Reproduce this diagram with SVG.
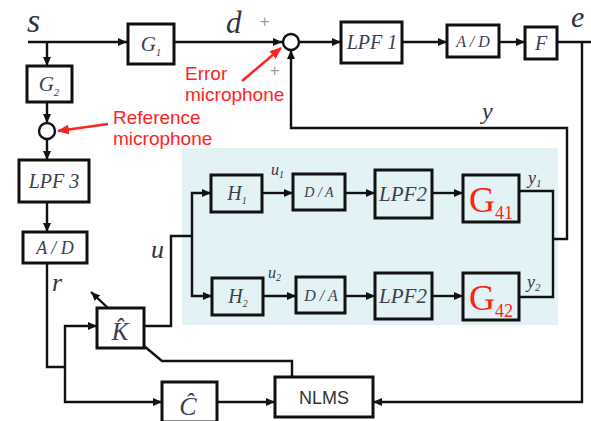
<svg xmlns="http://www.w3.org/2000/svg" width="591" height="421" viewBox="0 0 591 421">
<defs>
<marker id="ah" markerUnits="userSpaceOnUse" markerWidth="9" markerHeight="8" refX="9" refY="4" orient="auto">
<path d="M0,0 L9,4 L0,8 z" fill="#111"/>
</marker>
<marker id="ahr" markerUnits="userSpaceOnUse" markerWidth="12" markerHeight="10" refX="11" refY="5" orient="auto">
<path d="M0,0 L12,5 L0,10 z" fill="#f22"/>
</marker>
<style>
.box{fill:#fff;stroke:#111;stroke-width:3}
.sbox{fill:#e3f2f4;stroke:#111;stroke-width:3}
.ln{fill:none;stroke:#111;stroke-width:2.4}
.arr{marker-end:url(#ah)}
.mic{fill:#fff;stroke:#111;stroke-width:2.4}
.m{font-family:"Liberation Serif",serif;font-style:italic;fill:#33333f}
.bl{font-family:"Liberation Serif",serif;font-style:italic;fill:#3a3e50;text-anchor:middle}
.red{font-family:"Liberation Sans",Arial,sans-serif;fill:#f22;font-size:19px}
.g4{font-family:"Liberation Serif",serif;fill:#f21;text-anchor:middle}
.pl{font-family:"Liberation Sans",sans-serif;fill:#999;font-size:16px}
</style>
</defs>
<rect id="shade" x="182" y="148" width="376" height="177" fill="#e3f2f4"/>

<g id="connectors">
<path class="ln arr" d="M28 42 H127"/>
<path class="ln arr" d="M47 42 V66"/>
<path class="ln arr" d="M47 102 V123"/>
<path class="ln arr" d="M47 139 V160"/>
<path class="ln arr" d="M47 202 V232"/>
<path class="ln" d="M47 263 V367 H65"/>
<path class="ln arr" d="M65 367 V326 H97"/>
<path class="ln arr" d="M65 367 V402 H162"/>
<path class="ln" d="M144 326 H171 V236 H192"/>
<path class="ln arr" d="M192 236 V193 H211"/>
<path class="ln arr" d="M192 236 V296 H212"/>
<path class="ln arr" d="M262 193 H293"/>
<path class="ln arr" d="M345 193 H375"/>
<path class="ln arr" d="M432 193 H463"/>
<path class="ln arr" d="M263 296 H296"/>
<path class="ln arr" d="M345 296 H375"/>
<path class="ln arr" d="M432 296 H463"/>
<path class="ln" d="M519 191 H553 V297 H519"/>
<path class="ln arr" d="M553 239 H567 V128 H291 V50"/>
<path class="ln arr" d="M174 42 H282"/>
<path class="ln arr" d="M299 42 H341"/>
<path class="ln arr" d="M402 42 H447"/>
<path class="ln arr" d="M499 42 H525"/>
<path class="ln" d="M557 42 H591"/>
<path class="ln arr" d="M582 42 V402 H373"/>
<path class="ln arr" d="M217 402 H275"/>
<path class="ln" d="M144 346 L162 361 H292 V377"/>
<path class="ln arr" d="M108 308 L91 292"/>
<path fill="none" stroke="#f22" stroke-width="2.6" marker-end="url(#ahr)" d="M108 124 L58 131"/>
<path fill="none" stroke="#f22" stroke-width="2.6" marker-end="url(#ahr)" d="M242 81 L281 48"/>
</g>

<g id="G1"><rect class="box" x="128" y="24" width="46" height="40"/><text class="bl" x="151" y="51" font-size="21">G<tspan font-size="11" dy="5">1</tspan></text></g>
<g id="G2"><rect class="box" x="27" y="66" width="45" height="36"/><text class="bl" x="49" y="91" font-size="21">G<tspan font-size="11" dy="5">2</tspan></text></g>
<g id="refmic"><circle class="mic" cx="47" cy="131" r="8"/></g>
<g id="errmic"><circle class="mic" cx="291" cy="42" r="8"/></g>
<g id="LPF3"><rect class="box" x="19" y="160" width="70" height="42"/><text class="bl" x="54" y="188" font-size="20">LPF 3</text></g>
<g id="AD1"><rect class="box" x="23" y="232" width="64" height="31"/><text class="bl" x="55" y="254" font-size="18">A / D</text></g>
<g id="K"><rect class="box" x="97" y="308" width="47" height="40"/><text class="bl" x="120" y="340" font-size="25">K̂</text></g>
<g id="Chat"><rect class="box" x="162" y="382" width="55" height="40"/><text class="bl" x="188" y="415" font-size="26">Ĉ</text></g>
<g id="NLMS"><rect class="box" x="275" y="377" width="98" height="40"/><text x="324" y="404" font-size="18" text-anchor="middle" font-family="Liberation Sans, sans-serif" fill="#333">NLMS</text></g>
<g id="LPF1"><rect class="box" x="341" y="22" width="61" height="41"/><text class="bl" x="372" y="49" font-size="20">LPF 1</text></g>
<g id="AD2"><rect class="box" x="447" y="25" width="52" height="32"/><text class="bl" x="473" y="47" font-size="16">A / D</text></g>
<g id="F"><rect class="box" x="525" y="27" width="32" height="32"/><text class="bl" x="541" y="50" font-size="20">F</text></g>
<g id="H1"><rect class="sbox" x="211" y="175" width="51" height="37"/><text class="bl" x="237" y="200" font-size="20">H<tspan font-size="10" dy="4">1</tspan></text></g>
<g id="DA1"><rect class="sbox" x="293" y="174" width="52" height="36"/><text class="bl" x="319" y="197" font-size="14">D / A</text></g>
<g id="LPF2a"><rect class="sbox" x="375" y="170" width="57" height="48"/><text class="bl" x="403" y="201" font-size="21">LPF2</text></g>
<g id="G41"><rect class="sbox" x="463" y="175" width="56" height="47"/><text class="g4" x="491" y="212" font-size="36"><tspan>G</tspan><tspan font-size="18" dy="7">41</tspan></text></g>
<g id="H2"><rect class="sbox" x="212" y="278" width="51" height="37"/><text class="bl" x="238" y="303" font-size="20">H<tspan font-size="10" dy="4">2</tspan></text></g>
<g id="DA2"><rect class="sbox" x="296" y="277" width="49" height="36"/><text class="bl" x="321" y="301" font-size="16">D / A</text></g>
<g id="LPF2b"><rect class="sbox" x="375" y="273" width="57" height="46"/><text class="bl" x="403" y="303" font-size="21">LPF2</text></g>
<g id="G42"><rect class="sbox" x="463" y="273" width="56" height="47"/><text class="g4" x="491" y="310" font-size="36"><tspan>G</tspan><tspan font-size="18" dy="7">42</tspan></text></g>

<g id="labels">
<text class="m" x="27" y="32" font-size="34">s</text>
<text class="m" x="226" y="33" font-size="31">d</text>
<text class="m" x="571" y="27" font-size="30">e</text>
<text class="m" x="482" y="119" font-size="24">y</text>
<text class="m" x="52" y="291" font-size="26">r</text>
<text class="m" x="151" y="258" font-size="26">u</text>
<text class="m" x="271" y="175" font-size="16">u<tspan font-size="10" dy="3">1</tspan></text>
<text class="m" x="268" y="278" font-size="16">u<tspan font-size="10" dy="3">2</tspan></text>
<text class="m" x="528" y="184" font-size="18">y<tspan font-size="11" dy="3">1</tspan></text>
<text class="m" x="527" y="288" font-size="18">y<tspan font-size="11" dy="3">2</tspan></text>
<text class="pl" x="260" y="27">+</text>
<text class="pl" x="270" y="76">+</text>
<text class="red" x="185" y="80">Error</text>
<text class="red" x="185" y="101">microphone</text>
<text class="red" x="113" y="124">Reference</text>
<text class="red" x="113" y="145">microphone</text>
</g>
</svg>
